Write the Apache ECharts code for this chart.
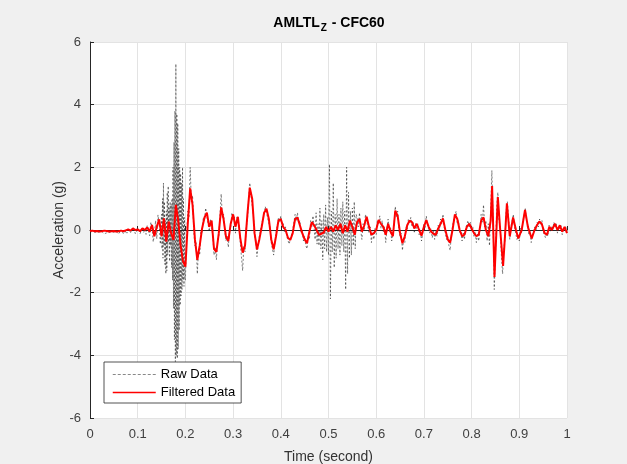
<!DOCTYPE html>
<html>
<head>
<meta charset="utf-8">
<script src="https://cdn.jsdelivr.net/npm/echarts@6/dist/echarts.min.js"></script>
<style>
html,body{margin:0;padding:0;background:#f0f0f0;}
#c{width:627px;height:464px;}
</style>
</head>
<body>
<div id="c"></div>
<script>
// ---- data (time in seconds, acceleration in g) ----
const xTicks = [0, 0.1, 0.2, 0.3, 0.4, 0.5, 0.6, 0.7, 0.8, 0.9, 1];
const yTicks = [-6, -4, -2, 0, 2, 4, 6];

// Raw data segments (start time, step, values)
const rawAStart = 0, rawAStep = 0.0025;
const rawA = [-0.06,-0.09,-0.05,-0.1,-0.07,-0.04,-0.08,-0.11,-0.06,-0.09,-0.05,-0.08,-0.12,-0.07,-0.09,-0.04,-0.08,-0.1,-0.06,-0.09,
  -0.07,-0.11,-0.05,-0.09,-0.13,-0.06,-0.1,-0.08,-0.04,-0.12,-0.02,-0.1,0.0,-0.06,-0.09,0.03,-0.05,0.02,-0.12,-0.04,
  -0.05,0.02,-0.12,0.0,0.08,-0.08,0.03,-0.14,0.15,0.0,-0.18,0.25,0.12,-0.38,-0.15,0.3,-0.28,0.48,0.2,-0.45];
const rawBStart = 0.15, rawBStep = 0.001;
const rawB = [0.5,-0.6,1.0,-0.9,1.5,-0.5,0.9,-1.1,0.3,-1.4,
  0.6,-1.3,1.2,-0.8,1.4,-0.4,0.7,-1.0,0.9,-0.5,
  0.8,-1.2,1.0,-1.6,2.0,-2.5,2.8,-3.5,3.8,-4.2,
  5.3,-4.0,3.7,-4.1,3.4,-3.8,2.6,-3.2,2.0,-2.4,
  1.8,-2.1,1.5,-1.9,2.0,-1.6,1.0,-1.8,0.4,-1.5];
const rawCStart = 0.2, rawCStep = 0.0025;
const rawC = [-1.6,-0.2,0.6,0.4,2.0,0.9,1.1,0.0,-0.5,-0.4,-1.4,-0.6,-0.8,0.0,-0.1,0.4,0.3,0.7,0.45,0.4,
  -0.05,0.35,0.1,-0.2,-0.8,-0.55,-0.95,-0.3,-0.2,0.45,1.15,0.4,0.5,0.0,-0.35,-0.2,-0.55,0.0,0.1,0.55,
  0.3,0.45,-0.1,0.4,0.3,0.2,-0.4,-0.45,-1.3,-0.5,-0.7,0.1,0.3,1.0,1.5,1.1,0.8,0.5,-0.2,-0.3,
  -0.85,-0.5,-0.2,-0.25,0.2,0.25,0.5,0.75,0.55,0.6,0.2,0.1,-0.4,-0.35,-0.8,-0.45,-0.1,-0.05,0.4,0.25,
  0.45,0.1,0.2,-0.05,0.1,-0.2,-0.15,-0.45,-0.3,-0.35,0.0,0.05,0.5,0.3,0.55,0.2,0.3,-0.1,0.0,-0.35,
  -0.2,-0.5,-0.6,-0.2,-0.3,0.3,0.1,0.45];
const rawDStart = 0.47, rawDStep = 0.002;
const rawD = [0.45,-0.3,0.55,-0.45,0.2,-0.5,0.7,-0.6,0.3,-0.95,0.5,-0.6,0.8,-0.7,0.4,-0.8,2.1,-2.2,0.6,-0.7,
  1.5,-1.2,0.5,-0.9,1.0,-0.6,0.5,-0.8,0.7,-0.5,0.9,-0.7,0.6,-1.9,2.0,-1.4,1.2,-0.9,0.6,-0.8,
  0.7,-0.5,0.9,-0.6,0.5];
const rawEStart = 0.56, rawEStep = 0.0025;
const rawE = [0.4,0.1,0.55,0.0,-0.3,0.2,0.0,0.5,0.3,0.35,-0.1,0.1,-0.4,0.0,-0.3,0.05,
  -0.15,0.3,0.2,0.45,0.05,0.3,-0.05,0.1,-0.4,0.05,0.35,-0.05,0.1,-0.35,-0.1,0.15,0.75,0.4,0.6,0.0,
  -0.2,-0.1,-0.65,-0.25,-0.4,0.1,0.0,0.35,0.2,0.4,0.1,0.25,-0.1,0.2,0.05,0.2,-0.15,0.0,-0.35,-0.1,
  0.2,0.05,0.45,0.15,0.2,-0.1,0.05,-0.25,0.0,-0.3,-0.05,-0.2,0.15,0.0,0.35,0.2,0.5,0.1,0.1,-0.3,
  -0.2,-0.5,-0.65,-0.15,-0.1,0.35,0.45,0.6,0.2,0.3,-0.1,0.0,-0.35,-0.1,-0.3,0.05,0.0,0.3,0.1,0.25,
  -0.05,0.1,-0.2,-0.05,-0.4,-0.1,-0.35,0.0,0.5,0.25,0.8,0.1,0.3,-0.35,0.2,-0.5,0.6,1.9,0.3,-1.9,
  -0.8,0.7,1.2,0.3,0.1,-0.8,-1.4,-0.6,-0.3,0.6,0.9,0.4,-0.3,0.1,0.15,0.5,0.1,0.15,-0.3,-0.2,
  -0.35,0.05,-0.1,0.3,0.45,0.7,0.3,0.2,-0.15,-0.05,-0.4,-0.15,-0.2,0.1,0.0,0.25,0.1,0.35,0.15,0.3,
  -0.05,0.0,-0.25,-0.1,-0.2,0.15,-0.05,0.1,0.0,0.25,0.1,0.2,-0.1,0.1,0.0,0.15,-0.15,0.05,-0.05,0.1,-0.1];

// Filtered data: uniform part (step 0.005 from 0) and tail (explicit times)
const filtStart = 0, filtStep = 0.005;
const filtMain = [-0.03,-0.02,-0.04,-0.03,-0.05,-0.04,-0.02,-0.03,-0.05,-0.04,
  -0.03,-0.05,-0.04,-0.02,-0.04,-0.01,0.02,-0.02,0.05,0.0,
  0.02,-0.04,0.05,0.0,0.08,-0.05,0.16,-0.2,0.1,0.34,
  -0.2,0.37,-0.37,0.27,-0.1,-0.32,0.8,0.3,-0.5,-1.0,
  -1.17,0.2,1.33,0.8,-0.3,-0.95,-0.5,0.05,0.4,0.55,
  0.1,0.3,-0.6,-0.7,-0.1,0.72,0.35,-0.2,-0.35,0.2,
  0.5,0.1,0.42,-0.25,-0.72,-0.5,0.5,1.35,1.0,-0.1,
  -0.62,-0.3,0.1,0.55,0.68,0.35,-0.3,-0.62,-0.2,0.3,
  0.35,0.1,0.0,-0.25,-0.32,-0.1,0.35,0.4,0.15,-0.1,
  -0.3,-0.42,-0.05,0.25,0.15,0.0,-0.15,-0.12,-0.08,0.1,
  -0.05,0.1,-0.05,0.15,0.0,0.2,-0.1,0.15,-0.05,0.3,
  0.1,-0.15,0.25,0.35,-0.05,0.15,0.42,0.1,-0.15,-0.1,
  0.0,0.32,0.2,0.1,-0.15,0.2,-0.05,-0.2,0.62,0.45,
  -0.1,-0.42,-0.2,0.15,0.3,0.25,0.05,0.2,0.0,-0.18,
  0.1,0.32,0.1,-0.05,-0.12,-0.15,0.05,0.2,0.37,0.0,
  -0.3,-0.4,0.0,0.5,0.35,0.0,-0.2,-0.15,0.1,0.2,
  0.05,-0.1,-0.2,-0.15,0.3,0.4,0.0,-0.2];
const filtTailT = [0.84,0.843,0.848,0.855,0.86,0.866,0.87,0.874,0.88,0.887,0.893,0.898,0.905,0.912,0.918,0.926,0.932,0.937,0.942,0.947,0.953,0.958,0.963,0.968,0.975,0.98,0.985,0.99,0.995,1.0];
const filtTailV = [0.3,1.4,-1.5,1.05,0.0,-1.15,-0.2,0.85,-0.2,0.4,0.0,-0.27,0.0,0.64,0.1,-0.27,0.0,0.15,0.27,0.2,-0.1,-0.15,0.1,0.0,0.2,0.0,0.15,-0.05,0.1,-0.1];

// ---- build series data ----
function seg(start, step, vals) { return vals.map((v, i) => [+(start + i * step).toFixed(5), v]); }
const rawData = [].concat(
  seg(rawAStart, rawAStep, rawA),
  seg(rawBStart, rawBStep, rawB),
  seg(rawCStart, rawCStep, rawC),
  seg(rawDStart, rawDStep, rawD),
  seg(rawEStart, rawEStep, rawE)
);
const filtData = seg(filtStart, filtStep, filtMain).concat(filtTailT.map((t, i) => [t, filtTailV[i]]));

const FONT = 'Liberation Sans, Arial, Helvetica, sans-serif';
const chart = echarts.init(document.getElementById('c'), null, {renderer: 'canvas'});
chart.setOption({
  animation: false,
  backgroundColor: '#f0f0f0',
  textStyle: {fontFamily: FONT},
  title: {
    text: '{a|AMLTL}{s|Z}{a| - CFC60}',
    left: 329, top: 14, padding: 0, textAlign: 'center',
    textStyle: {
      rich: {
        a: {fontFamily: FONT, fontSize: 14, fontWeight: 'bold', color: '#000', lineHeight: 18},
        s: {fontFamily: FONT, fontSize: 10, fontWeight: 'bold', color: '#000', padding: [10, 1, 0, 1], lineHeight: 18}
      }
    }
  },
  grid: {left: 90, right: 60, top: 42, bottom: 46, show: true, backgroundColor: '#ffffff', borderWidth: 0,
         containLabel: false, outerBoundsMode: 'none'},
  xAxis: {
    type: 'value', min: xTicks[0], max: xTicks[xTicks.length - 1], interval: 0.1,
    name: 'Time (second)', nameLocation: 'middle', nameGap: 32, nameMoveOverlap: false,
    nameTextStyle: {fontFamily: FONT, fontSize: 14, color: '#333'},
    axisLine: {lineStyle: {color: '#262626', width: 1}},
    axisTick: {inside: true, length: 4, lineStyle: {color: '#262626'}},
    axisLabel: {fontFamily: FONT, fontSize: 13, color: '#404040', margin: 10},
    splitLine: {show: true, lineStyle: {color: '#e3e3e3', width: 1}}
  },
  yAxis: {
    type: 'value', min: yTicks[0], max: yTicks[yTicks.length - 1], interval: 2,
    name: 'Acceleration (g)', nameLocation: 'middle', nameGap: 24, nameRotate: 90, nameMoveOverlap: false,
    nameTextStyle: {fontFamily: FONT, fontSize: 14, color: '#333'},
    axisLine: {show: true, lineStyle: {color: '#262626', width: 1}},
    axisTick: {show: true, inside: true, length: 4, lineStyle: {color: '#262626'}},
    axisLabel: {fontFamily: FONT, fontSize: 13, color: '#404040', margin: 9},
    splitLine: {show: true, lineStyle: {color: '#e3e3e3', width: 1}}
  },
  legend: {
    orient: 'vertical', left: 104, top: 362,
    itemWidth: 43, itemHeight: 12, itemGap: 5,
    padding: [6, 6, 4, 8],
    backgroundColor: '#ffffff', borderColor: '#262626', borderWidth: 0.8, borderRadius: 0,
    textStyle: {fontFamily: FONT, fontSize: 13, color: '#000'},
    itemStyle: {opacity: 0},
    data: [
      {name: 'Raw Data', lineStyle: {color: '#888', width: 1, type: [3, 2]}},
      {name: 'Filtered Data', lineStyle: {color: '#ff0000', width: 1.5}}
    ]
  },
  series: [
    {
      name: 'Raw Data', type: 'line', data: rawData, showSymbol: false, symbol: 'none',
      lineStyle: {color: '#222', width: 0.6, type: [2, 2]}, itemStyle: {color: '#555'},
      z: 2
    },
    {
      name: 'Filtered Data', type: 'line', data: filtData, showSymbol: false, symbol: 'none',
      lineStyle: {color: '#ff0000', width: 2}, itemStyle: {color: '#ff0000'},
      z: 3
    }
  ]
});
</script>
</body>
</html>
